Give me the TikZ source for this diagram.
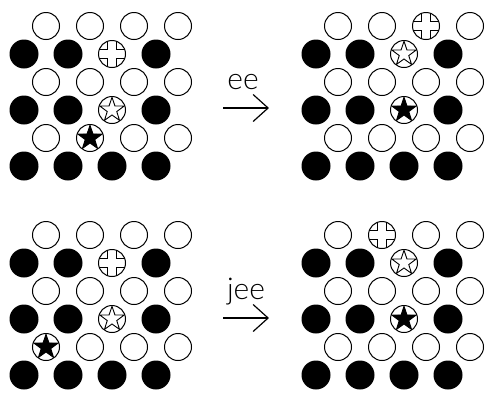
\documentclass[tikz,border=0pt]{standalone}
\usepackage{fontspec}
\newfontfamily\lblfont{Lato Light}
\usetikzlibrary{arrows.meta}
\newcommand\skipcell[1]{\expandafter\def\csname skip#1\endcsname{}}
\newcommand\hexpanel[3]{%
  \foreach \r in {1,...,6}{%
    \foreach \c in {1,...,4}{%
      \ifcsname skip#1-\r-\c\endcsname\else
        \ifodd\r
          \node[wc] (#1-\r-\c) at ({#2+2+44*\c},{#3+26+28*(\r-1)}) {};
        \else
          \node[bc] (#1-\r-\c) at ({#2-20+44*\c},{#3+26+28*(\r-1)}) {};
        \fi
      \fi
    }%
  }%
}
\tikzset{
  wc/.style={circle, draw=black, line width=1pt, fill=white, minimum size=27pt, inner sep=0pt},
  bc/.style={circle, fill=black, minimum size=29pt, inner sep=0pt},
  plussym/.style={wc, path picture={
    \draw[line width=1pt, shift={(path picture bounding box.center)}]
      (-4.5pt,-20pt) -- (4.5pt,-20pt) -- (4.5pt,-4.5pt) -- (20pt,-4.5pt) -- (20pt,4.5pt)
      -- (4.5pt,4.5pt) -- (4.5pt,20pt) -- (-4.5pt,20pt) -- (-4.5pt,4.5pt) -- (-20pt,4.5pt)
      -- (-20pt,-4.5pt) -- (-4.5pt,-4.5pt) -- cycle;}},
  starpath/.style={line width=0.9pt, line join=miter, shift={(path picture bounding box.center)}},
  wstar/.style={wc, path picture={
    \draw[starpath, fill=white]
      (90:12.8pt) -- (126:5pt) -- (162:12.8pt) -- (198:5pt) -- (234:12.8pt) -- (270:5pt)
      -- (306:12.8pt) -- (342:5pt) -- (18:12.8pt) -- (54:5pt) -- cycle;}},
  bstar/.style={wc, path picture={
    \draw[starpath, fill=black]
      (90:12.8pt) -- (126:5pt) -- (162:12.8pt) -- (198:5pt) -- (234:12.8pt) -- (270:5pt)
      -- (306:12.8pt) -- (342:5pt) -- (18:12.8pt) -- (54:5pt) -- cycle;}},
  lbl/.style={font=\lblfont\fontsize{30}{30}\selectfont, inner sep=0pt, anchor=base},
  arr/.style={line width=1.2pt, -{Straight Barb[length=15pt,width=27pt,line width=1.2pt]}}
}
\skipcell{A-2-3}\skipcell{A-4-3}\skipcell{A-5-2}
\skipcell{B-1-3}\skipcell{B-2-3}\skipcell{B-4-3}
\skipcell{C-2-3}\skipcell{C-4-3}\skipcell{C-5-1}
\skipcell{D-1-2}\skipcell{D-2-3}\skipcell{D-4-3}
\begin{document}
\begin{tikzpicture}[x=1pt,y=-1pt]
\useasboundingbox (0,0) rectangle (486,392);
% panel A (top left)
\hexpanel{A}{0}{0}
\node[plussym] (A-2-3) at (112,54) {};
\node[wstar] (A-4-3) at (112,110) {};
\node[bstar] (A-5-2) at (90,138) {};
% panel B (top right)
\hexpanel{B}{292}{0}
\node[plussym] (B-1-3) at (426,26) {};
\node[wstar] (B-2-3) at (404,54) {};
\node[bstar] (B-4-3) at (404,110) {};
% panel C (bottom left)
\hexpanel{C}{0}{209}
\node[plussym] (C-2-3) at (112,263) {};
\node[wstar] (C-4-3) at (112,319) {};
\node[bstar] (C-5-1) at (46,347) {};
% panel D (bottom right)
\hexpanel{D}{292}{209}
\node[plussym] (D-1-2) at (382,235) {};
\node[wstar] (D-2-3) at (404,263) {};
\node[bstar] (D-4-3) at (404,319) {};
% arrows
\node[lbl] (t1) at (243,89) {ee};
\coordinate (a1s) at (223,108);
\coordinate (a1e) at (269,108);
\draw[arr] (a1s) -- (a1e);
\node[lbl] (t2) at (246,299) {jee};
\coordinate (a2s) at (223,318);
\coordinate (a2e) at (269,318);
\draw[arr] (a2s) -- (a2e);
\end{tikzpicture}
\end{document}
